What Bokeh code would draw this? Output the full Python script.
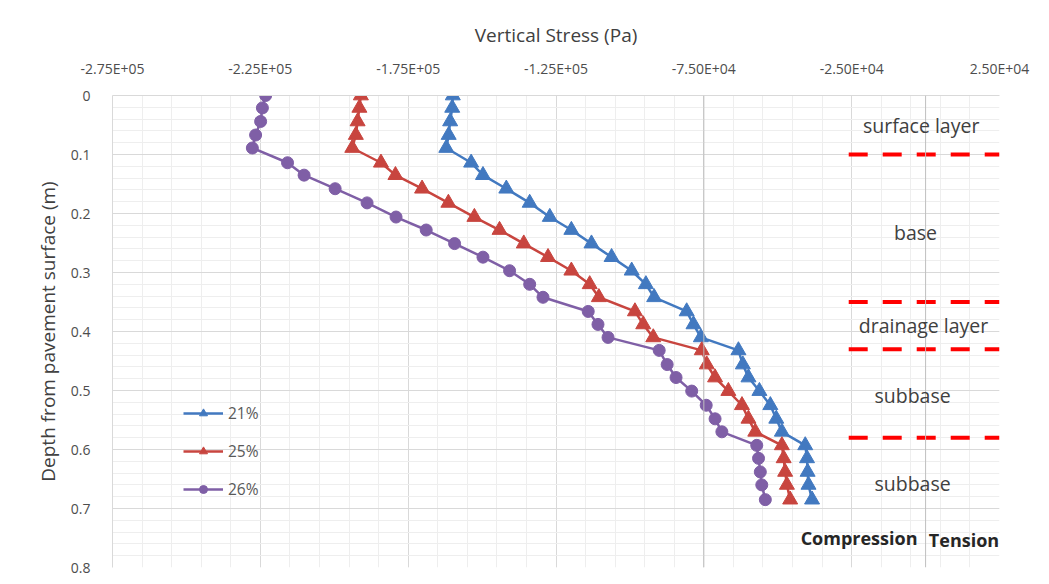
from bokeh.plotting import figure
from bokeh.models import Range1d, FixedTicker, Legend, LegendItem, Label, Span
from bokeh.embed import file_html
from bokeh.resources import INLINE

# Depth below pavement surface (m) of each computed node
depth_m = [0.0, 0.021, 0.044, 0.067, 0.089, 0.114, 0.135, 0.158, 0.182, 0.206,
           0.228, 0.251, 0.274, 0.297, 0.320, 0.342, 0.366, 0.388, 0.410, 0.432,
           0.456, 0.478, 0.501, 0.525, 0.548, 0.570, 0.593, 0.615, 0.638, 0.660,
           0.685]

# Vertical stress (Pa) for each moisture content
stress_21 = [-159900, -160100, -160800, -161300, -162100, -153700, -149700, -141800,
             -133900, -127100, -119800, -113000, -106200, -99400, -94600, -91800,
             -80800, -78500, -76000, -63300, -61800, -59900, -56200, -52500,
             -50500, -48600, -40700, -40100, -39900, -39600, -38400]
stress_25 = [-191000, -191500, -192100, -192700, -193900, -184200, -179300, -170300,
             -161400, -152600, -144100, -135900, -127700, -119800, -113600, -110500,
             -98300, -95500, -92100, -75700, -74000, -71200, -66700, -62100,
             -59900, -57600, -48600, -48000, -47500, -46900, -45800]
stress_26 = [-223200, -224300, -224900, -226600, -227700, -215800, -210200, -199700,
             -188900, -179100, -168900, -159300, -149700, -140700, -133900, -129400,
             -114100, -110800, -107400, -90100, -87400, -84400, -79100, -74200,
             -71200, -68900, -57100, -56500, -55900, -55400, -54200]

series_names = ["21%", "25%", "26%"]

# Layer interfaces (m) and the stress span they are drawn over (Pa)
boundary_depths = [0.1, 0.35, 0.43, 0.58]
boundary_x = [-26000, 25000]

x_ticks = [-275000, -225000, -175000, -125000, -75000, -25000, 25000]
x_tick_labels = ["-2.75E+05", "-2.25E+05", "-1.75E+05", "-1.25E+05",
                 "-7.50E+04", "-2.50E+04", "2.50E+04"]
x_minor = [-275000 + 10000 * i for i in range(31)]
y_ticks = [0.0, 0.1, 0.2, 0.3, 0.4, 0.5, 0.6, 0.7, 0.8]
y_tick_labels = ["0", "0.1", "0.2", "0.3", "0.4", "0.5", "0.6", "0.7", "0.8"]
y_minor = [round(0.02 * i, 2) for i in range(41)]

FONT = "Open Sans"
TXT = "#595959"

p = figure(width=1049, height=584, output_backend="svg", toolbar_location=None,
           x_axis_location="above",
           x_range=Range1d(-275000, 25000), y_range=Range1d(0.8, 0.0))
p.min_border_left = 112
p.min_border_right = 50
p.min_border_top = 95
p.min_border_bottom = 17
p.outline_line_color = None
p.background_fill_color = "white"
p.border_fill_color = "white"

# axes
xa = p.xaxis[0]
xa.ticker = FixedTicker(ticks=x_ticks, minor_ticks=x_minor)
xa.major_label_overrides = dict(zip(x_ticks, x_tick_labels))
xa.axis_label = "Vertical Stress (Pa)"
ya = p.yaxis[0]
ya.ticker = FixedTicker(ticks=y_ticks, minor_ticks=y_minor)
ya.major_label_overrides = dict(zip(y_ticks, y_tick_labels))
ya.axis_label = "Depth from pavement surface (m)"
for ax in (xa, ya):
    ax.axis_line_color = "#d9d9d9"
    ax.major_tick_in = 0
    ax.major_tick_out = 0
    ax.minor_tick_in = 0
    ax.minor_tick_out = 0
    ax.major_label_text_font = FONT
    ax.major_label_text_font_size = "14px"
    ax.major_label_text_color = "#4d4d4d"
    ax.axis_label_text_font = FONT
    ax.axis_label_text_font_size = "19px"
    ax.axis_label_text_font_style = "normal"
    ax.axis_label_text_color = "#404040"
xa.major_label_standoff = 18
xa.axis_label_standoff = 8
ya.major_label_standoff = 22
ya.axis_label_standoff = 7

# gridlines
for g in (p.xgrid[0], p.ygrid[0]):
    g.grid_line_color = "#d9d9d9"
    g.minor_grid_line_color = "#eeeeee"
p.xgrid[0].ticker = xa.ticker
p.ygrid[0].ticker = ya.ticker

for xv in (-75000, 0):
    p.add_layout(Span(location=xv, dimension="height", line_color="#bfbfbf", line_width=1))

# layer interfaces
for d in boundary_depths:
    p.line(boundary_x, [d, d], line_color="#ff0000", line_width=4, line_dash="19 15")

# stress profiles
colors = ["#4279c0", "#c8453f", "#7f5fa6"]
markers = ["triangle", "triangle", "circle"]
sizes = [15, 15, 12]
items = []
for name, xs, c, m, s in zip(series_names, [stress_21, stress_25, stress_26], colors, markers, sizes):
    lr = p.line(xs, depth_m, line_color=c, line_width=2.5)
    sr = p.scatter(xs, depth_m, marker=m, size=s, fill_color=c, line_color=c)
    items.append(LegendItem(label=name, renderers=[lr, sr]))

legend = Legend(items=items, location=(71, 67), background_fill_alpha=0,
                border_line_color=None, padding=0, margin=0, spacing=16,
                glyph_width=40, glyph_height=20, label_height=20, label_standoff=5,
                label_text_font=FONT, label_text_font_size="15.5px", label_text_color=TXT)
p.add_layout(legend)

# layer names
layer_labels = [("surface layer", -1500, 0.051), ("base", -3400, 0.232),
                ("drainage layer", -700, 0.39), ("subbase", -4400, 0.508),
                ("subbase", -4400, 0.657)]
for t, xv, yv in layer_labels:
    p.add_layout(Label(x=xv, y=yv, text=t, text_align="center", text_baseline="middle",
                       text_font=FONT, text_font_size="19.5px", text_color="#404040"))
for t, xv, yv in [("Compression", -22500, 0.75), ("Tension", 13000, 0.754)]:
    p.add_layout(Label(x=xv, y=yv, text=t, text_align="center", text_baseline="middle",
                       text_font=FONT, text_font_size="18px", text_font_style="bold",
                       text_color="#262626"))

open("out.html", "w").write(file_html(p, INLINE))
